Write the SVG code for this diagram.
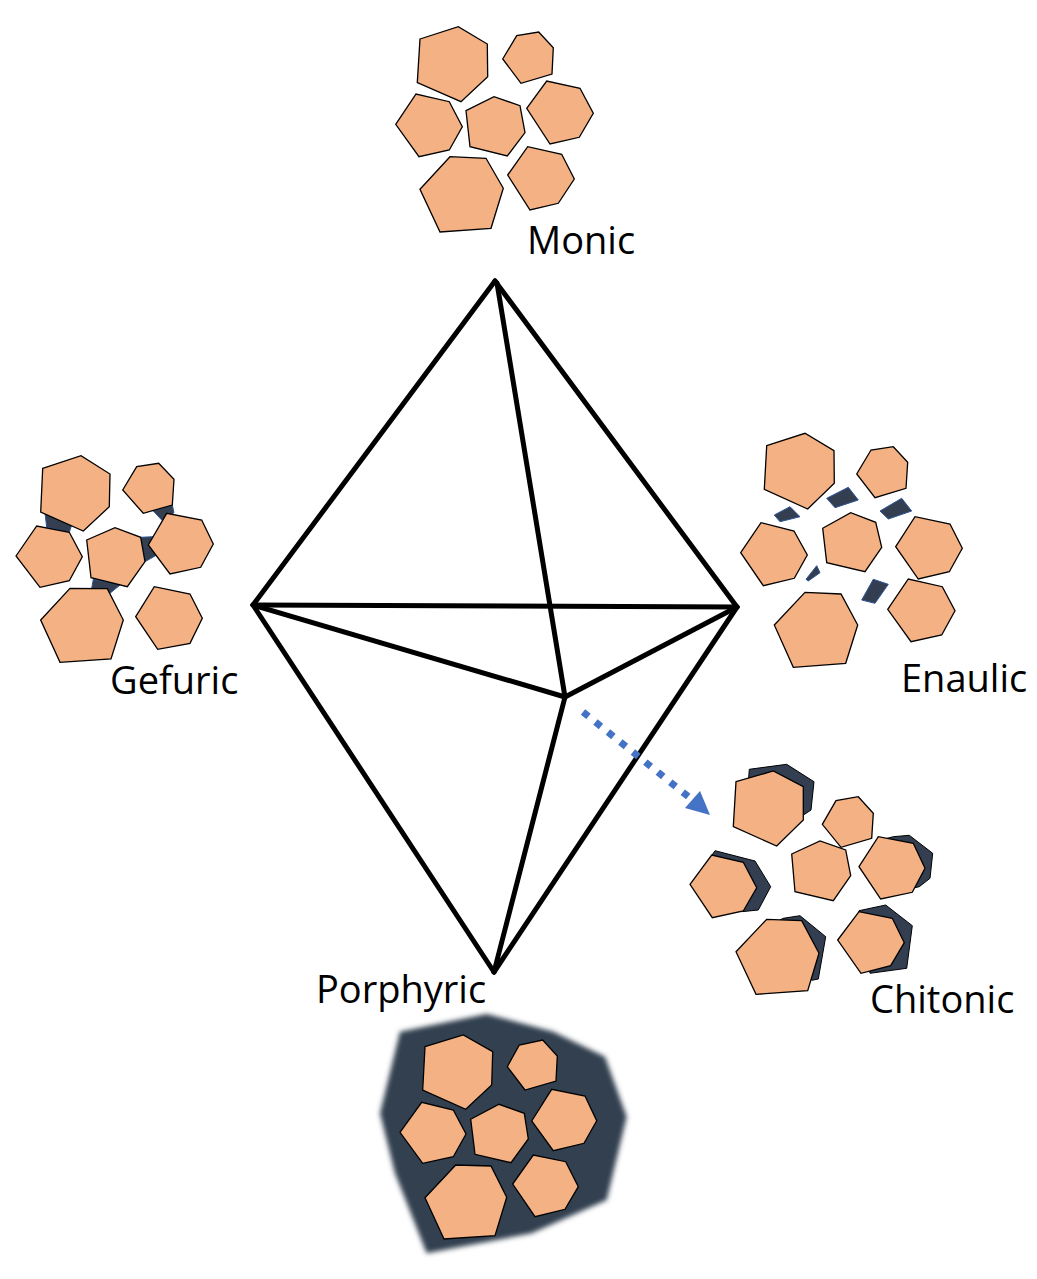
<svg xmlns="http://www.w3.org/2000/svg" width="1037" height="1279" viewBox="0 0 1037 1279">
<style>
.g{fill:#F4B183;stroke:#000;stroke-width:1.3;stroke-linejoin:miter}
.d{fill:#333F50;stroke:#2F5597;stroke-width:1}
.s{fill:#333F50;stroke:#000;stroke-width:1}
.e{stroke:#000;stroke-width:5;fill:none;stroke-linecap:round;stroke-linejoin:round}
.t{font-family:"Open Sans","Noto Sans",sans-serif;font-size:38px;fill:#000}
</style>
<defs>
<filter id="blur" x="-10%" y="-10%" width="120%" height="120%"><feGaussianBlur stdDeviation="2.5"/></filter>
</defs>
<rect width="1037" height="1279" fill="#fff"/>

<g id="connectors">
<line class="e" x1="495" y1="281" x2="253" y2="605"/>
<line class="e" x1="495" y1="281" x2="737" y2="607"/>
<line class="e" x1="497" y1="283" x2="565" y2="697"/>
<line class="e" x1="253" y1="605" x2="737" y2="607"/>
<line class="e" x1="253" y1="605" x2="565" y2="697"/>
<line class="e" x1="737" y1="607" x2="565" y2="697"/>
<line class="e" x1="253" y1="605" x2="494" y2="972"/>
<line class="e" x1="737" y1="607" x2="494" y2="972"/>
<line class="e" x1="565" y1="697" x2="494" y2="972"/>
<line x1="583" y1="712" x2="690" y2="798" stroke="#4472C4" stroke-width="7" stroke-dasharray="7 9"/>
<path d="M685,808 L700,791 L710,815 z" fill="#4472C4"/>
</g>

<g id="monic">
<polygon class="g" points="420,39 458.3,26.7 487.3,44 487.7,76.7 461,101.7 417.3,82.7"/>
<polygon class="g" points="502.7,59 516.7,35.7 538.7,32 553.3,47.7 552,74 521,83.3"/>
<polygon class="g" points="395.7,124.3 416,94 449.3,101.7 462.3,126.7 449.3,150 419,156.7"/>
<polygon class="g" points="466,110.7 494,96.7 520,105.7 525,132.7 507.3,156 470,146.7"/>
<polygon class="g" points="526.7,108.3 546.7,81 580,88.3 593.3,113.3 579.3,137.3 550,144"/>
<polygon class="g" points="420,189.3 450,156.7 486,158.3 503.3,188.3 491,228.3 440,232"/>
<polygon class="g" points="507.7,175 527.7,146.7 561.7,154.3 574.3,179 558.3,203.3 530,210"/>
<text class="t" x="527" y="254">Monic</text>
</g>

<g id="gefuric">
<polygon class="d" points="45,513.3 71.7,525 69.3,532.3 46.7,527.3"/>
<polygon class="d" points="153.3,511 172.3,505 174,512.7 161.7,520"/>
<polygon class="d" points="140.7,537.3 153.3,536.7 156.7,555 145,561.7"/>
<polygon class="d" points="93.3,579.3 120,585 110,593.3 91.7,588.3"/>
<polygon class="g" points="42.7,468.3 81,455.7 110,474 109.3,506.7 83.3,531 40.7,512"/>
<polygon class="g" points="122.7,490 136.7,466.7 158.7,463.3 174,479.3 172.3,505 143.3,513.3"/>
<polygon class="g" points="16,556 36.7,526 69.3,532.3 82.3,556.7 69.3,580.7 40,587.3"/>
<polygon class="g" points="86.7,540 115,527.7 140.7,537.3 145,561.7 127.3,586.7 91,577.7"/>
<polygon class="g" points="148.3,545 166.7,513.3 201.7,520 213.3,544 200.7,567.3 170,574"/>
<polygon class="g" points="40.7,620 70,588.3 107.3,588.7 123.3,620 111,659 60,662.3"/>
<polygon class="g" points="135.7,616.7 154.3,586.7 190,594 202.3,618.3 190,643.3 157.7,649.3"/>
<text class="t" x="110" y="694">Gefuric</text>
</g>

<g id="enaulic">
<polygon class="d" points="774.3,515 790,506.7 800,516.7 780,521.7"/>
<polygon class="d" points="826.7,498.3 848.3,487.3 858.3,500 835,507.7"/>
<polygon class="d" points="880,511 901.7,498.3 911.7,511 888.3,519"/>
<polygon class="d" points="806,579.3 816.7,565.7 820,572.7 808.3,581"/>
<polygon class="d" points="861.7,600 873.3,579.3 888.3,584.3 875,603.3"/>
<polygon class="g" points="766.7,445.7 805,433.3 834,450.7 834.3,483.3 807.7,509 764.3,489.3"/>
<polygon class="g" points="856.7,474 871,450 893.3,446.7 907.7,462.3 906,488.3 875,497.7"/>
<polygon class="g" points="740.7,552.7 761,522.7 794,531 807.3,555 794.3,578.3 763.3,585.7"/>
<polygon class="g" points="822.7,528.3 850.7,512.7 875.7,522.3 881.7,547.3 865,571.7 826.7,562.7"/>
<polygon class="g" points="895.7,546.7 915,516.7 950,524 962.3,548.3 949.3,571.7 918.3,579"/>
<polygon class="g" points="774.3,625 805,592.3 841,594 857.7,625 845.7,663.3 793.3,667.3"/>
<polygon class="g" points="887.7,609.3 908.3,579 942.3,586.7 955,610.7 941.7,635 911,641.7"/>
<text class="t" x="901" y="692">Enaulic</text>
</g>

<g id="chitonic">
<polygon class="s" points="749.3,769.3 786.7,764.3 814,781.7 811,810 793.3,821.7 746.7,805"/>
<polygon class="g" points="736,781.7 773.3,771 803.3,786.7 803.3,820 776.7,846 733.3,826.7"/>
<polygon class="g" points="822.3,824.3 836,800.7 858.3,796.7 873.3,813.3 871.7,838.3 841,847.3"/>
<polygon class="s" points="712,855 715,850.7 755,861 770.7,886.7 758.3,910 741.7,911.7"/>
<polygon class="g" points="690,884.3 711.7,855 743.3,862.3 756.7,887.7 743.3,911 712.3,917.7"/>
<polygon class="g" points="791.7,854 820,841 845.7,850 850.7,875.7 833.3,900.7 795,891.7"/>
<polygon class="s" points="880.7,840 893.3,836.7 909.3,835.3 932.7,853.3 930,878.3 919.3,886.7 905,890"/>
<polygon class="g" points="859,866.7 878.3,836.7 913.3,843.3 925,868.3 912.3,892.3 880.7,899"/>
<polygon class="s" points="770,925 783.3,918.3 800,915.7 825.7,936.7 818.3,979 811.7,980.3 800,960"/>
<polygon class="g" points="736,951.7 766.7,919.3 801.7,920.7 819,953.3 807.7,990.7 756,994.3"/>
<polygon class="s" points="859,910.7 885.7,905 912.3,925.7 906.7,968.3 870,973.3"/>
<polygon class="g" points="837.7,940 859,911.7 892.3,918.3 904.3,942.7 890.7,965.7 861,973.3"/>
<text class="t" x="870" y="1013">Chitonic</text>
</g>

<g id="porphyric">
<polygon fill="#333F50" filter="url(#blur)" points="400,1031.7 486.7,1014 553.3,1031.7 605,1056.7 626.7,1116.7 606.7,1200 531.7,1233.3 426.7,1253.3 395,1173.3 380,1113.3"/>
<polygon class="g" points="425,1046.7 463.3,1035 492.7,1051.7 491.7,1085 465.7,1109.3 422.7,1090"/>
<polygon class="g" points="507.3,1066.7 519.3,1045 542.7,1040 557.3,1056 556,1081 525,1090"/>
<polygon class="g" points="400,1132.3 421.7,1102.3 453.3,1110 466,1134 453.3,1156.7 422.7,1163.3"/>
<polygon class="g" points="470.7,1119.3 499,1104.3 524.3,1113.3 528.3,1139 511,1162.7 475,1154.3"/>
<polygon class="g" points="531.7,1121 551.7,1089.3 585,1096 596.7,1120.7 584,1143.3 553.3,1150.7"/>
<polygon class="g" points="425,1197.7 455.7,1165 491,1166 506.7,1197.3 495,1235.7 444,1239"/>
<polygon class="g" points="512.7,1184 533.3,1155 565.7,1161.7 578.3,1186.7 565,1209.3 535,1216.7"/>
<text class="t" x="316" y="1003">Porphyric</text>
</g>
</svg>
